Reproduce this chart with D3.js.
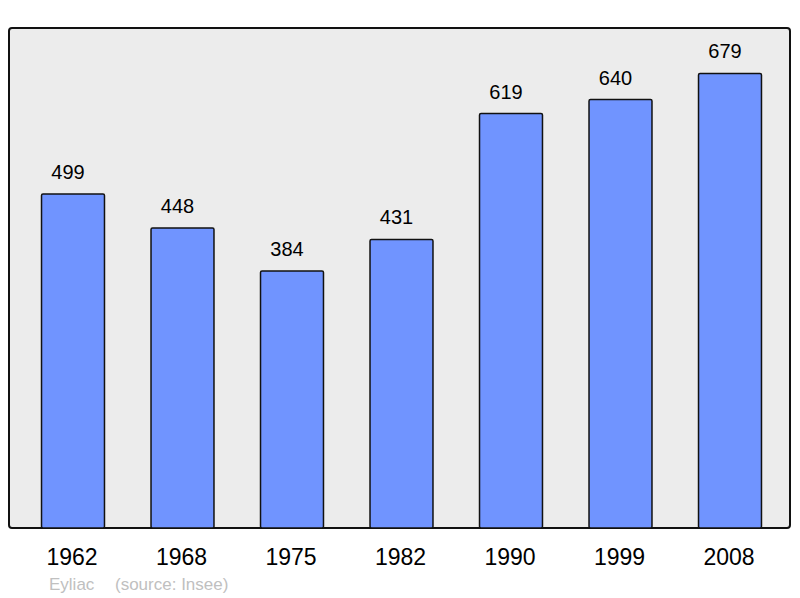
<!DOCTYPE html>
<html><head><meta charset="utf-8">
<script src="https://cdn.jsdelivr.net/npm/d3@7"></script>
<style>body{margin:0;background:#fff}svg{display:block}</style>
</head><body>
<script>
const years = ["1962","1968","1975","1982","1990","1999","2008"];
const population = [499,448,384,431,619,640,679];
const footerName = "Eyliac";
const footerSource = "(source: Insee)";

const W = 800, H = 598;
const svg = d3.select("body").append("svg").attr("width", W).attr("height", H);

const frame = {x0: 9, y0: 28, x1: 790, y1: 528};
svg.append("rect").attr("x", frame.x0).attr("y", frame.y0)
  .attr("width", frame.x1 - frame.x0).attr("height", frame.y1 - frame.y0)
  .attr("rx", 3).attr("fill", "#ececec").attr("stroke", "#111").attr("stroke-width", 2);

const x = d3.scaleBand().domain(years).range([18.25, 784.75]).paddingInner(0.425).paddingOuter(0.2125);
const y = d3.scaleLinear().domain([0, d3.max(population) * 1.1]).range([frame.y1, frame.y0]);

const data = years.map((yr, i) => ({yr, v: population[i]}));

svg.append("g").selectAll("rect").data(data).join("rect")
  .attr("x", d => x(d.yr)).attr("y", d => y(d.v))
  .attr("width", x.bandwidth()).attr("height", d => y(0) - y(d.v))
  .attr("rx", 1.5)
  .attr("fill", "#7094ff").attr("stroke", "#111").attr("stroke-width", 1.5);

svg.append("g").selectAll("text").data(data).join("text")
  .attr("x", d => x(d.yr) + x.bandwidth() / 2 - 5).attr("y", d => y(d.v) - 15)
  .attr("text-anchor", "middle").attr("font-family", "Liberation Sans, Arial, sans-serif")
  .attr("font-size", 20).attr("fill", "#000").text(d => d.v);

const xAxis = d3.axisBottom(x).tickSize(0).tickPadding(0);
const gx = svg.append("g").attr("transform", `translate(0,${frame.y1})`).call(xAxis);
gx.select(".domain").remove();
gx.selectAll("text").attr("font-family", "Liberation Sans, Arial, sans-serif")
  .attr("font-size", 23).attr("fill", "#000").attr("dy", null).attr("y", 37).attr("dx", -1);

svg.append("text").attr("x", 49).attr("y", 590)
  .attr("font-family", "Liberation Sans, Arial, sans-serif").attr("font-size", 17)
  .attr("fill", "#c0c0c0").text(footerName);
svg.append("text").attr("x", 115).attr("y", 590)
  .attr("font-family", "Liberation Sans, Arial, sans-serif").attr("font-size", 17)
  .attr("fill", "#c0c0c0").text(footerSource);
</script>
</body></html>
